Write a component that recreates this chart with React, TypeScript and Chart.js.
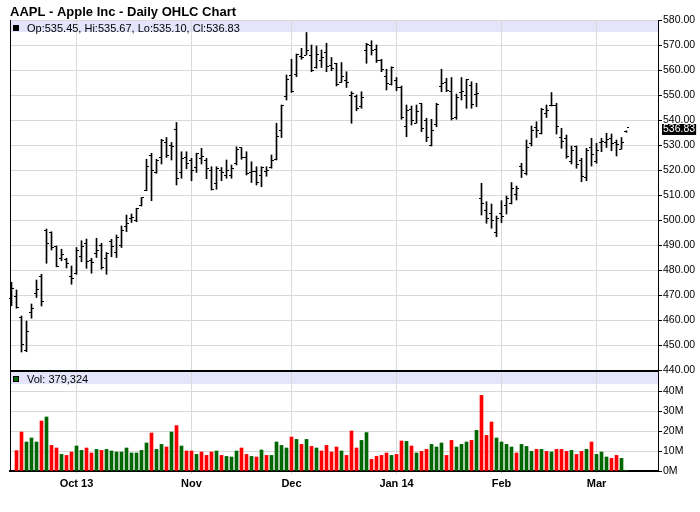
import { useEffect, useRef } from 'react';
import { Chart, registerables } from 'chart.js';

Chart.register(...registerables);

// ---- Data (daily bars, Sep 12 2013 .. Mar 11 2014) ----
const opens = [
  468.5, 469.3, 461.0, 448.0, 463.0, 470.7, 477.5, 496.0, 494.9, 489.3,
  484.5, 484.1, 477.3, 478.5, 485.6, 490.5, 483.9, 486.6, 489.9, 484.6,
  491.3, 487.0, 489.8, 497.5, 500.8, 500.0, 505.9, 511.8, 526.0, 519.0,
  525.0, 531.0, 529.8, 536.3, 519.1, 525.0, 524.0, 521.0, 524.6, 524.0,
  519.6, 514.6, 520.0, 517.7, 518.0, 522.8, 529.0, 525.0, 519.0, 519.2,
  517.6, 519.5, 521.0, 524.1, 536.0, 549.5, 558.0, 558.3, 565.5, 566.0,
  565.8, 560.9, 563.6, 567.0, 562.0, 562.5, 555.0, 555.8, 549.7, 549.5,
  545.4, 568.0, 569.9, 568.1, 563.8, 557.5, 554.2, 555.7, 552.9, 537.5,
  544.3, 538.8, 546.5, 539.8, 529.9, 538.2, 553.5, 554.9, 551.5, 541.0,
  550.9, 549.9, 554.0, 550.1, 508.8, 504.0, 502.5, 495.2, 502.6, 505.9,
  506.6, 510.1, 521.4, 518.7, 530.6, 536.95, 534.7, 542.5, 546.0, 545.8,
  533.0, 532.8, 523.2, 529.4, 523.6, 517.1, 529.1, 523.4, 531.0, 530.9,
  532.8, 531.1, 528.4, 535.45,
];
const highs = [
  475.1, 472.0, 461.6, 459.6, 466.4, 476.0, 478.3, 496.4, 495.3, 489.6,
  488.3, 484.7, 481.6, 489.0, 491.7, 492.4, 484.7, 492.7, 490.7, 487.0,
  492.3, 494.0, 497.6, 502.0, 502.4, 504.7, 509.0, 524.3, 526.7, 524.3,
  532.3, 533.0, 531.0, 539.0, 527.3, 527.3, 524.7, 526.7, 528.7, 524.7,
  521.3, 521.3, 521.0, 524.0, 522.0, 529.3, 529.0, 527.3, 523.3, 521.3,
  521.3, 521.3, 526.0, 538.7, 546.0, 558.0, 564.3, 566.4, 568.7, 575.0,
  570.0, 569.6, 568.0, 570.7, 565.0, 562.7, 563.0, 559.3, 551.3, 550.0,
  551.3, 570.7, 571.7, 570.0, 564.3, 560.3, 561.3, 557.0, 553.6, 546.0,
  545.6, 546.0, 546.7, 540.7, 540.3, 546.7, 560.3, 556.7, 557.0, 550.4,
  557.0, 556.3, 555.3, 554.7, 514.7, 507.3, 506.4, 501.6, 507.7, 509.6,
  515.0, 513.6, 522.7, 532.0, 537.6, 539.3, 544.7, 546.0, 551.0, 546.7,
  536.7, 534.0, 529.6, 529.6, 524.7, 528.7, 532.7, 530.7, 532.7, 534.7,
  534.4, 532.0, 533.0, 535.67,
];
const lows = [
  465.7, 464.7, 447.2, 447.3, 460.7, 469.0, 465.6, 482.7, 488.0, 481.3,
  483.7, 480.8, 474.3, 478.3, 483.3, 480.7, 478.7, 485.0, 480.3, 478.3,
  485.3, 485.0, 489.0, 495.3, 499.0, 499.3, 505.6, 511.7, 507.7, 518.7,
  522.4, 525.0, 524.0, 514.0, 516.7, 520.5, 515.7, 519.0, 522.4, 516.5,
  512.0, 512.3, 515.7, 516.7, 516.7, 522.0, 524.3, 518.0, 515.0, 514.0,
  513.3, 517.5, 520.7, 524.0, 533.0, 548.0, 551.0, 557.3, 564.3, 566.0,
  559.3, 560.7, 561.0, 559.3, 559.7, 553.6, 555.0, 553.0, 538.7, 543.7,
  544.7, 562.7, 566.0, 563.0, 559.3, 552.0, 554.0, 551.7, 540.3, 533.3,
  538.0, 538.7, 535.3, 531.3, 529.6, 537.3, 551.3, 551.3, 540.0, 540.3,
  548.0, 544.7, 544.7, 545.3, 502.0, 498.7, 496.7, 493.3, 498.9, 502.4,
  506.4, 508.0, 517.0, 518.0, 529.6, 533.0, 534.4, 541.0, 545.6, 534.4,
  528.7, 524.7, 522.4, 520.7, 515.3, 515.7, 521.6, 522.7, 527.3, 529.0,
  527.7, 525.6, 528.3, 535.10,
];
const closes = [
  472.7, 464.9, 450.1, 455.3, 464.7, 472.3, 467.4, 490.6, 489.1, 481.5,
  486.2, 482.7, 476.8, 488.0, 489.6, 483.4, 483.0, 487.8, 480.9, 486.6,
  489.6, 492.8, 496.0, 498.7, 501.1, 504.5, 508.9, 521.4, 519.9, 524.0,
  531.7, 526.0, 529.3, 516.7, 524.7, 522.7, 520.0, 526.5, 525.5, 520.7,
  512.3, 520.6, 519.0, 520.0, 520.6, 528.2, 525.0, 518.6, 519.5, 515.0,
  521.1, 519.8, 523.7, 533.4, 545.9, 556.1, 551.2, 566.3, 565.0, 567.9,
  560.0, 566.4, 565.0, 561.4, 560.5, 554.4, 557.5, 555.0, 550.8, 544.5,
  549.0, 570.1, 567.7, 563.9, 560.1, 554.5, 561.0, 553.1, 541.0, 543.9,
  540.0, 543.5, 536.5, 532.9, 535.7, 546.4, 554.5, 551.9, 540.7, 549.1,
  551.5, 556.2, 546.1, 550.5, 506.5, 500.8, 499.8, 500.6, 501.5, 508.8,
  512.6, 512.5, 519.7, 529.0, 536.0, 535.9, 544.4, 544.0, 546.0, 537.4,
  531.2, 525.3, 527.6, 522.1, 517.4, 527.7, 526.2, 527.8, 531.2, 532.4,
  530.8, 530.4, 530.9, 536.83,
];
const volumes = [
  null, 10.2e6, 19.5e6, 14.5e6, 16.5e6, 14.5e6, 25.0e6, 27.0e6, 12.8e6, 11.5e6,
  8.3e6, 7.8e6, 9.5e6, 12.5e6, 10.3e6, 11.5e6, 9.0e6, 10.8e6, 10.3e6, 10.8e6,
  10.0e6, 9.5e6, 9.5e6, 11.5e6, 9.0e6, 9.0e6, 10.3e6, 14.0e6, 19.0e6, 10.8e6,
  13.3e6, 12.0e6, 19.5e6, 22.7e6, 12.5e6, 10.0e6, 10.0e6, 8.3e6, 9.5e6, 7.8e6,
  9.5e6, 10.0e6, 7.8e6, 7.3e6, 7.0e6, 10.0e6, 11.5e6, 8.3e6, 7.3e6, 7.0e6,
  10.5e6, 7.8e6, 7.8e6, 14.5e6, 12.8e6, 11.5e6, 17.0e6, 15.8e6, 13.3e6, 15.8e6,
  12.3e6, 11.5e6, 10.0e6, 12.8e6, 9.5e6, 12.0e6, 10.0e6, 7.8e6, 20.0e6, 11.5e6,
  15.3e6, 19.2e6, 5.8e6, 7.3e6, 7.8e6, 9.0e6, 7.8e6, 8.3e6, 15.0e6, 14.8e6,
  12.5e6, 9.0e6, 9.8e6, 10.8e6, 13.3e6, 12.0e6, 14.0e6, 7.8e6, 15.3e6, 12.0e6,
  13.3e6, 14.5e6, 15.3e6, 20.3e6, 37.8e6, 17.8e6, 24.5e6, 16.5e6, 14.5e6, 13.3e6,
  12.0e6, 9.0e6, 13.3e6, 12.3e6, 9.8e6, 10.8e6, 10.8e6, 9.8e6, 9.5e6, 10.8e6,
  10.8e6, 9.8e6, 10.3e6, 8.3e6, 9.8e6, 10.8e6, 14.5e6, 8.3e6, 9.5e6, 7.0e6,
  6.3e6, 7.8e6, 6.3e6, 379324,
];
const monthIdx = [13, 36, 56, 77, 98, 117];
const monthLabels = ['Oct 13', 'Nov', 'Dec', 'Jan 14', 'Feb', 'Mar'];
const priceTicks = [440, 450, 460, 470, 480, 490, 500, 510, 520, 530, 540, 550, 560, 570, 580];
const volTicks = [0, 10e6, 20e6, 30e6, 40e6];
const titleText = 'AAPL - Apple Inc - Daily OHLC Chart';

const GRID = '#d9d9d9';
const BAND = '#e4e4fa';
const UP = '#006600';
const DOWN = '#ff0000';
const FONT = '"Liberation Sans", Arial, sans-serif';
const AXIS_FONT_SIZE = 10.5;

const extras = {
  id: 'ohlcExtras',
  beforeDraw(chart: any) {
    const { ctx, chartArea: ca, scales } = chart;
    ctx.save();
    ctx.fillStyle = '#fff';
    ctx.fillRect(0, 0, chart.width, chart.height);
    ctx.fillStyle = BAND;
    ctx.fillRect(ca.left, scales.y.top, ca.right - ca.left, 12);
    ctx.fillRect(ca.left, scales.yv.top + 1, ca.right - ca.left, 12);
    ctx.restore();
  },
  afterDatasetsDraw(chart: any) {
    const { ctx, scales } = chart;
    const xs = scales.x;
    const ys = scales.y;
    ctx.save();
    ctx.fillStyle = '#000';
    for (let i = 0; i < opens.length; i++) {
      const xc = Math.floor(xs.getPixelForValue(i));
      const yo = Math.floor(ys.getPixelForValue(opens[i]));
      const yc = Math.floor(ys.getPixelForValue(closes[i]));
      ctx.fillRect(xc - 2, yo, 2, 1);
      ctx.fillRect(xc + 1, yc, 2, 1);
    }
    ctx.restore();
  },
  afterDraw(chart: any) {
    const { ctx, chartArea: ca, scales } = chart;
    const ys = scales.y;
    const yv = scales.yv;
    const n = closes.length - 1;
    ctx.save();
    ctx.fillStyle = '#000';
    ctx.fillRect(ca.left, ca.top, 1, ca.bottom - ca.top + 1);
    ctx.fillRect(ca.left, ys.bottom - 1, ca.right - ca.left, 2);
    ctx.font = 'bold 13px ' + FONT;
    ctx.textBaseline = 'alphabetic';
    ctx.textAlign = 'left';
    ctx.fillText(titleText, 10, 16);
    ctx.fillRect(13, ys.top + 5, 6, 6);
    ctx.font = '11px ' + FONT;
    ctx.fillText(
      `Op:${opens[n].toFixed(2)}, Hi:${highs[n].toFixed(2)}, Lo:${lows[n].toFixed(2)}, Cl:${closes[n].toFixed(2)}`,
      27, ys.top + 11.5
    );
    ctx.fillRect(13, yv.top + 5, 6, 6);
    ctx.fillStyle = UP;
    ctx.fillRect(14, yv.top + 6, 4, 4);
    ctx.fillStyle = '#000';
    ctx.fillText(`Vol: ${(volumes[n] as number).toLocaleString('en-US')}`, 27, yv.top + 11.5);
    // last price box
    const py = Math.round(ys.getPixelForValue(closes[n]));
    ctx.font = AXIS_FONT_SIZE + 'px ' + FONT;
    const label = closes[n].toFixed(2);
    const w = ctx.measureText(label).width;
    ctx.fillRect(ca.right + 4, py - 4, w + 2, 11);
    ctx.fillStyle = '#fff';
    ctx.textBaseline = 'middle';
    ctx.fillText(label, ca.right + 5, py + 1.5);
    ctx.restore();
  },
};

export default function App() {
  const ref = useRef<HTMLCanvasElement | null>(null);
  useEffect(() => {
    if (!ref.current) return;
    const hl = highs.map((h, i) => ({ x: i, y: [lows[i], h] }));
    const volPts: any[] = [];
    const volCols: string[] = [];
    volumes.forEach((v, i) => {
      if (v == null) return;
      volPts.push({ x: i, y: v });
      const up = i === 0 ? closes[i] >= opens[i] : closes[i] >= closes[i - 1];
      volCols.push(up ? UP : DOWN);
    });
    const tickFont = { family: FONT, size: AXIS_FONT_SIZE };
    const chart = new Chart(ref.current, {
      type: 'bar',
      data: {
        datasets: [
          { label: 'HL', data: hl as any, yAxisID: 'y', backgroundColor: '#000', barThickness: 1, grouped: false } as any,
          { label: 'Volume', data: volPts, yAxisID: 'yv', backgroundColor: volCols, barThickness: 3, grouped: false } as any,
        ],
      },
      options: {
        animation: false,
        responsive: false,
        events: [],
        layout: { padding: { left: 10, top: 20, right: 0, bottom: 0 } },
        plugins: { legend: { display: false }, tooltip: { enabled: false }, title: { display: false } },
        scales: {
          x: {
            type: 'linear',
            position: 'bottom',
            min: -0.3,
            max: 129.3,
            offset: false,
            afterBuildTicks: (s: any) => { s.ticks = monthIdx.map((v) => ({ value: v })); },
            afterFit: (s: any) => { s.height = 41; },
            grid: { color: GRID, tickColor: GRID, tickLength: 3, offset: false, drawOnChartArea: true },
            border: { color: '#000', width: 2 },
            ticks: {
              autoSkip: false,
              maxRotation: 0,
              padding: 3,
              color: '#000',
              font: { family: FONT, size: 11, weight: 'bold' },
              callback: (v: any) => { const k = monthIdx.indexOf(Number(v)); return k >= 0 ? monthLabels[k] : ''; },
            },
          },
          y: {
            type: 'linear',
            position: 'right',
            stack: 'panes',
            stackWeight: 351,
            min: 439.6,
            max: 580,
            afterBuildTicks: (s: any) => { s.ticks = priceTicks.map((v) => ({ value: v })); },
            afterFit: (s: any) => { s.width = 42; },
            grid: { color: GRID, tickColor: '#000', tickLength: 4 },
            border: { color: '#000', width: 1 },
            ticks: { autoSkip: false, padding: 1, color: '#000', font: tickFont, callback: (v: any) => Number(v).toFixed(2) },
          },
          yv: {
            type: 'linear',
            position: 'right',
            stack: 'panes',
            stackWeight: 100,
            min: 0,
            max: 50e6,
            afterBuildTicks: (s: any) => { s.ticks = volTicks.map((v) => ({ value: v })); },
            afterFit: (s: any) => { s.width = 42; },
            grid: { color: GRID, tickColor: '#000', tickLength: 4 },
            border: { color: '#000', width: 1 },
            ticks: { autoSkip: false, padding: 1, color: '#000', font: tickFont, callback: (v: any) => Math.round(Number(v) / 1e6) + 'M' },
          },
        } as any,
      },
      plugins: [extras],
    });
    return () => chart.destroy();
  }, []);
  return (
    <div style={{ position: 'fixed', left: 0, top: 0, width: 700, height: 512, background: '#fff' }}>
      <canvas ref={ref} width={700} height={512} style={{ display: 'block' }} />
    </div>
  );
}
